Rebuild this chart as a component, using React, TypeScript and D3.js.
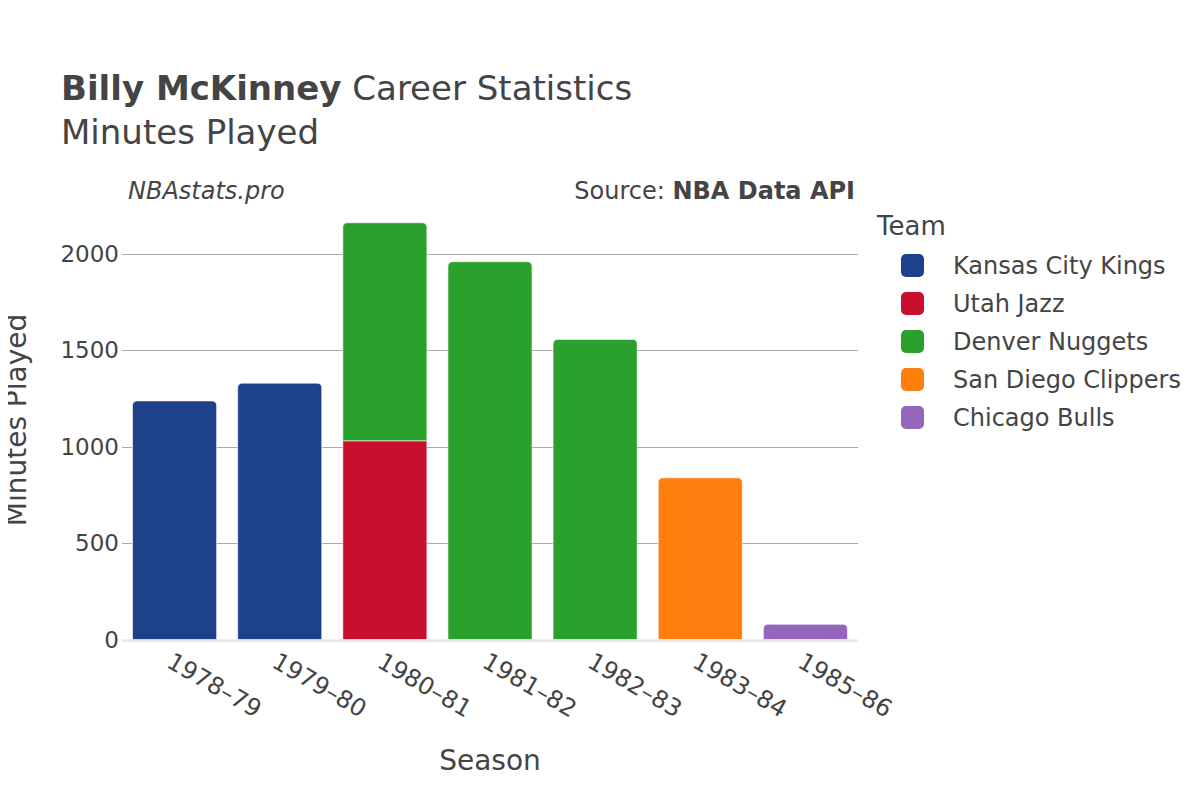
import { useEffect, useRef } from "react";
import * as d3 from "d3";

const seasons = ["1978–79", "1979–80", "1980–81", "1981–82", "1982–83", "1983–84", "1985–86"];
const teams = ["Kansas City Kings", "Utah Jazz", "Denver Nuggets", "San Diego Clippers", "Chicago Bulls"];
const teamColors = ["#1d428a", "#c8102e", "#2ca02c", "#ff7f0e", "#9467bd"];

// minutes per season, one array per team (0 = did not play for that team)
const kingsMinutes = [1238, 1330, 0, 0, 0, 0, 0];
const jazzMinutes = [0, 0, 1031, 0, 0, 0, 0];
const nuggetsMinutes = [0, 0, 1131, 1960, 1557, 0, 0];
const clippersMinutes = [0, 0, 0, 0, 0, 839, 0];
const bullsMinutes = [0, 0, 0, 0, 0, 0, 79];

const yTicks = [0, 500, 1000, 1500, 2000];

const font = "'DejaVu Sans', sans-serif";
const textColor = "#444";

function topRoundedRect(x: number, y: number, w: number, h: number, r: number) {
  const rr = Math.min(r, h, w / 2);
  return `M${x},${y + h}V${y + rr}Q${x},${y} ${x + rr},${y}H${x + w - rr}Q${x + w},${y} ${x + w},${y + rr}V${y + h}Z`;
}

export default function App() {
  const svgRef = useRef<SVGSVGElement>(null);
  const width = 1200;
  const height = 800;

  useEffect(() => {
    if (!svgRef.current) return;
    const svg = d3.select(svgRef.current);
    svg.selectAll("*").remove();

    const left = 122;
    const right = 858;

    const x = d3.scaleBand<string>().domain(seasons).range([left, right]).paddingInner(0.2).paddingOuter(0.1);
    const y = d3.scaleLinear().domain([0, 2000]).range([639.5, 254]);

    const series = [kingsMinutes, jazzMinutes, nuggetsMinutes, clippersMinutes, bullsMinutes];
    const rows = seasons.map((s, i) => {
      const row: Record<string, number | string> = { season: s };
      teams.forEach((t, j) => (row[t] = series[j][i]));
      return row;
    });
    const stacked = d3.stack<Record<string, number | string>>().keys(teams)(rows as any);

    // title
    const title = svg.append("text").attr("x", 61).attr("y", 100)
      .style("font-family", font).style("font-size", "34px").style("fill", textColor);
    title.append("tspan").style("font-weight", "bold").text("Billy McKinney");
    title.append("tspan").text(" Career Statistics");
    svg.append("text").attr("x", 61).attr("y", 144)
      .style("font-family", font).style("font-size", "34px").style("fill", textColor)
      .text("Minutes Played");

    svg.append("text").attr("x", 128).attr("y", 199)
      .style("font-family", font).style("font-size", "24px").style("font-style", "italic").style("fill", textColor)
      .text("NBAstats.pro");
    const src = svg.append("text").attr("x", 855).attr("y", 199).attr("text-anchor", "end")
      .style("font-family", font).style("font-size", "24px").style("fill", textColor);
    src.append("tspan").text("Source: ");
    src.append("tspan").style("font-weight", "bold").text("NBA Data API");

    // grid
    const grid = svg.append("g");
    grid.selectAll("line").data(yTicks.filter((d) => d > 0)).enter().append("line")
      .attr("x1", left).attr("x2", right)
      .attr("y1", (d) => Math.round(y(d)) + 0.5).attr("y2", (d) => Math.round(y(d)) + 0.5)
      .style("stroke", "#aaa").style("stroke-width", "1px");

    svg.append("line").attr("x1", left).attr("x2", right).attr("y1", y(0) + 1.2).attr("y2", y(0) + 1.2)
      .style("stroke", "#e8e8e8").style("stroke-width", "3px");

    svg.append("g").selectAll("text").data(yTicks).enter().append("text")
      .attr("x", 119).attr("y", (d) => y(d)).attr("dy", "0.35em").attr("text-anchor", "end")
      .style("font-family", font).style("font-size", "23px").style("fill", textColor)
      .text((d) => String(d));

    // bars
    const totals = rows.map((_, i) => d3.sum(series, (s) => s[i]));
    const bars = svg.append("g");
    stacked.forEach((layer, j) => {
      layer.forEach((d, i) => {
        const v = d[1] - d[0];
        if (v <= 0) return;
        const x0 = x(seasons[i])!;
        const w = x.bandwidth();
        const yTop = y(d[1]);
        const h = y(d[0]) - yTop;
        const isTop = Math.abs(d[1] - totals[i]) < 1e-6;
        bars.append("path")
          .attr("d", isTop ? topRoundedRect(x0, yTop, w, h, 5) : `M${x0},${yTop}h${w}v${h}h${-w}Z`)
          .style("fill", teamColors[j])
          .style("stroke", "#fff").style("stroke-opacity", 0.6).style("stroke-width", "1px");
      });
    });

    // x labels
    svg.append("g").selectAll("text").data(seasons).enter().append("text")
      .attr("transform", (d) => `translate(${x(d)! + x.bandwidth() / 2 - 5},659) rotate(30)`)
      .attr("dy", "0.35em")
      .style("font-family", font).style("font-size", "24px").style("fill", textColor)
      .text((d) => d);

    // axis titles
    svg.append("text").attr("x", (left + right) / 2).attr("y", 770).attr("text-anchor", "middle")
      .style("font-family", font).style("font-size", "28px").style("fill", textColor)
      .text("Season");
    svg.append("text").attr("transform", "translate(26,420) rotate(-90)").attr("text-anchor", "middle")
      .style("font-family", font).style("font-size", "28px").style("fill", textColor)
      .text("Minutes Played");

    // legend
    svg.append("text").attr("x", 877).attr("y", 235)
      .style("font-family", font).style("font-size", "26px").style("fill", textColor)
      .text("Team");
    const item = svg.append("g").selectAll("g").data(teams).enter().append("g")
      .attr("transform", (d, i) => `translate(0,${265.5 + i * 38})`);
    item.append("rect").attr("x", 901).attr("y", -11.5).attr("width", 23).attr("height", 23)
      .attr("rx", 5).style("fill", (d, i) => teamColors[i]);
    item.append("text").attr("x", 953).attr("dy", "0.35em")
      .style("font-family", font).style("font-size", "24px").style("fill", textColor)
      .text((d) => d);
  }, []);

  return (
    <div style={{ width, height, margin: -8 }}>
      <svg ref={svgRef} width={width} height={height} style={{ display: "block", background: "#fff" }}></svg>
    </div>
  );
}
